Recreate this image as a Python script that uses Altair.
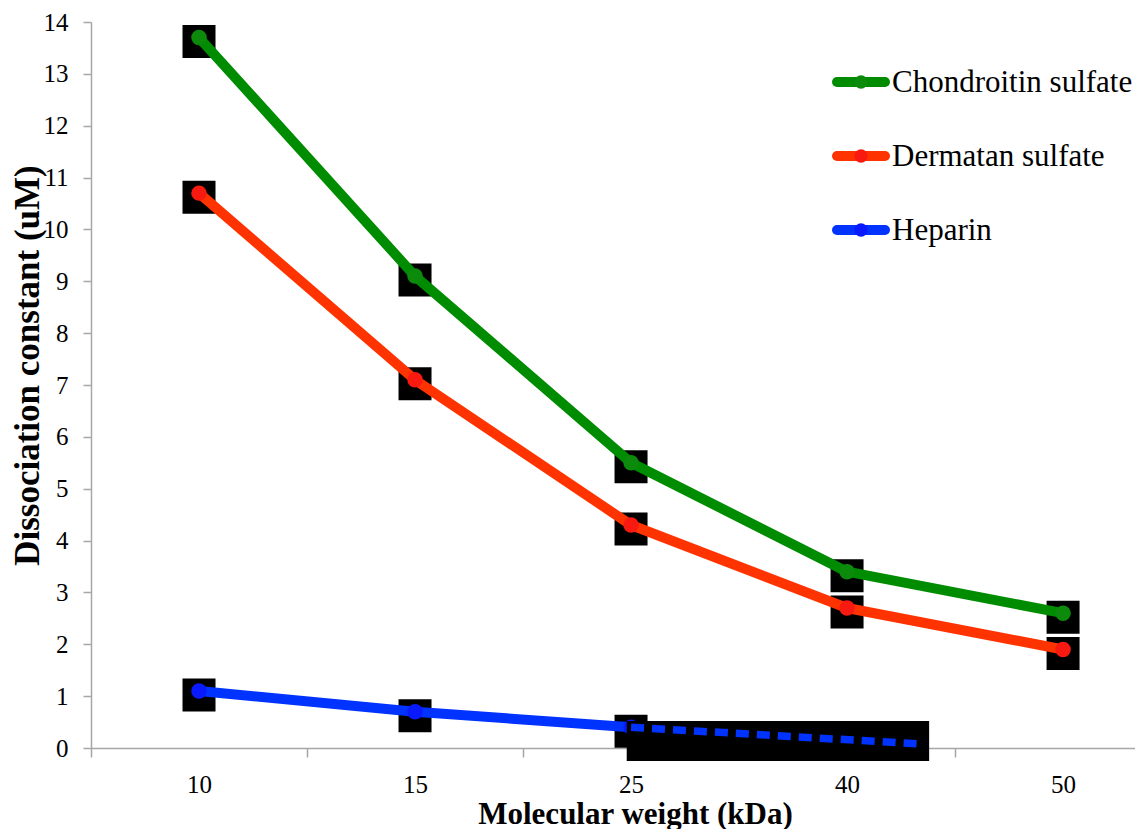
import json
import altair as alt
import pandas as pd

# ---- data ----
categories = ["10", "15", "25", "40", "50"]
series_names = ["Chondroitin sulfate", "Dermatan sulfate", "Heparin"]
chondroitin = [13.7, 9.1, 5.5, 3.4, 2.6]
dermatan = [10.7, 7.1, 4.3, 2.7, 1.9]
heparin = [1.1, 0.7, 0.4]
# dashed heparin extension (category-index positions and values)
heparin_dash_x = [2.0, 3.33]
heparin_dash_y = [0.4, 0.08]
# large black block covering the heparin tail
box_x = [1.98, 3.38]
box_y = [-0.25, 0.52]
line_colors = ["#008C00", "#FF3300", "#0033FF"]
point_colors = ["#0C8A0C", "#F81A10", "#0A1AFF"]

rows = []
for name, vals in zip(series_names, [chondroitin, dermatan, heparin]):
    for i, v in enumerate(vals):
        rows.append({"series": name, "idx": i, "cat": categories[i], "value": v})
df = pd.DataFrame(rows)
dash_df = pd.DataFrame({"idx": heparin_dash_x, "value": heparin_dash_y})
box_df = pd.DataFrame({"x1": [box_x[0]], "x2": [box_x[1]], "y1": [box_y[0]], "y2": [box_y[1]]})
legend_df = pd.DataFrame({"series": series_names, "row": list(range(len(series_names)))})

FONT = "Liberation Serif"
x_scale = alt.Scale(domain=[-0.5, 4.333], nice=False, zero=False)
y_scale = alt.Scale(domain=[0, 14], nice=False)

tick_vals = [-0.5, 0, 0.5, 1, 1.5, 2, 2.5, 3, 3.5, 4]
label_expr = f"datum.value % 1 == 0 ? {json.dumps(categories)}[datum.value] : ''"

x_axis = alt.Axis(
    values=tick_vals,
    labelExpr=label_expr,
    tickOpacity={"condition": {"test": "datum.value % 1 != 0", "value": 1}, "value": 0},
    labelOverlap=False,
    labelFlush=False,
    grid=False,
    tickSize=9,
    labelPadding=15,
    labelFont=FONT,
    labelFontSize=25,
    labelColor="black",
    title="Molecular weight (kDa)",
    titleFont=FONT,
    titleFontSize=31,
    titleFontWeight="bold",
    titleColor="black",
    titleX=544,
    titleY=75,
    titleBaseline="alphabetic",
    titleAlign="center",
    domainColor="#A6A6A6",
    domainWidth=1.5,
    tickColor="#A6A6A6",
    tickWidth=1.5,
)
y_axis = alt.Axis(
    values=list(range(0, 15)),
    grid=False,
    tickSize=8,
    labelPadding=15,
    labelFont=FONT,
    labelFontSize=25,
    labelColor="black",
    title="Dissociation constant (uM)",
    titleFont=FONT,
    titleFontSize=35,
    titleFontWeight="bold",
    titleColor="black",
    titleX=-53,
    titleY=343,
    titleBaseline="alphabetic",
    titleAlign="center",
    titleAngle=270,
    domainColor="#A6A6A6",
    domainWidth=1.5,
    tickColor="#A6A6A6",
    tickWidth=1.5,
)

stroke_scale = alt.Scale(domain=series_names, range=line_colors)
fill_scale = alt.Scale(domain=series_names, range=point_colors)

base = alt.Chart(df)

squares = base.mark_square(size=1089, color="black", opacity=1, yOffset=4).encode(
    x=alt.X("idx:Q", scale=x_scale, axis=x_axis),
    y=alt.Y("value:Q", scale=y_scale, axis=y_axis),
)

lines = base.mark_line(strokeWidth=10, strokeJoin="round", strokeCap="round").encode(
    x=alt.X("idx:Q", scale=x_scale),
    y=alt.Y("value:Q", scale=y_scale),
    stroke=alt.Stroke("series:N", scale=stroke_scale, legend=None),
    detail="series:N",
)

points = base.mark_circle(size=240, opacity=1).encode(
    x=alt.X("idx:Q", scale=x_scale),
    y=alt.Y("value:Q", scale=y_scale),
    fill=alt.Fill("series:N", scale=fill_scale, legend=None),
)

block = alt.Chart(box_df).mark_rect(color="black", clip=False).encode(
    x=alt.X("x1:Q", scale=x_scale),
    x2="x2:Q",
    y=alt.Y("y1:Q", scale=y_scale),
    y2="y2:Q",
)

dash = alt.Chart(dash_df).mark_line(strokeWidth=7.5, strokeDash=[13, 8], color="#0033FF").encode(
    x=alt.X("idx:Q", scale=x_scale),
    y=alt.Y("value:Q", scale=y_scale),
)

# ---- hand-built legend (positions in plot pixels, top-right) ----
leg = alt.Chart(legend_df).transform_calculate(ly="60 + datum.row * 74")
leg_line = leg.mark_rule(strokeWidth=10, strokeCap="round").encode(
    x=alt.value(746),
    x2=alt.value(794),
    y=alt.Y("ly:Q", scale=None, axis=None),
    stroke=alt.Stroke("series:N", scale=stroke_scale, legend=None),
)
leg_dot = leg.mark_circle(size=180, opacity=1).encode(
    x=alt.value(770),
    y=alt.Y("ly:Q", scale=None, axis=None),
    fill=alt.Fill("series:N", scale=fill_scale, legend=None),
)
leg_text = leg.mark_text(
    align="left", baseline="alphabetic", dy=10, font=FONT, fontSize=31, color="black"
).encode(
    x=alt.value(801),
    y=alt.Y("ly:Q", scale=None, axis=None),
    text="series:N",
)

chart = (
    alt.layer(squares, lines, points, block, dash, leg_line, leg_dot, leg_text)
    .properties(
        width=1044,
        height=726,
        autosize=alt.AutoSizeParams(type="none"),
        padding={"left": 83, "top": 14, "right": 0, "bottom": 81},
    )
    .configure_view(stroke=None)
)

chart.save("out.html", embed_options={"renderer": "svg", "actions": False})
